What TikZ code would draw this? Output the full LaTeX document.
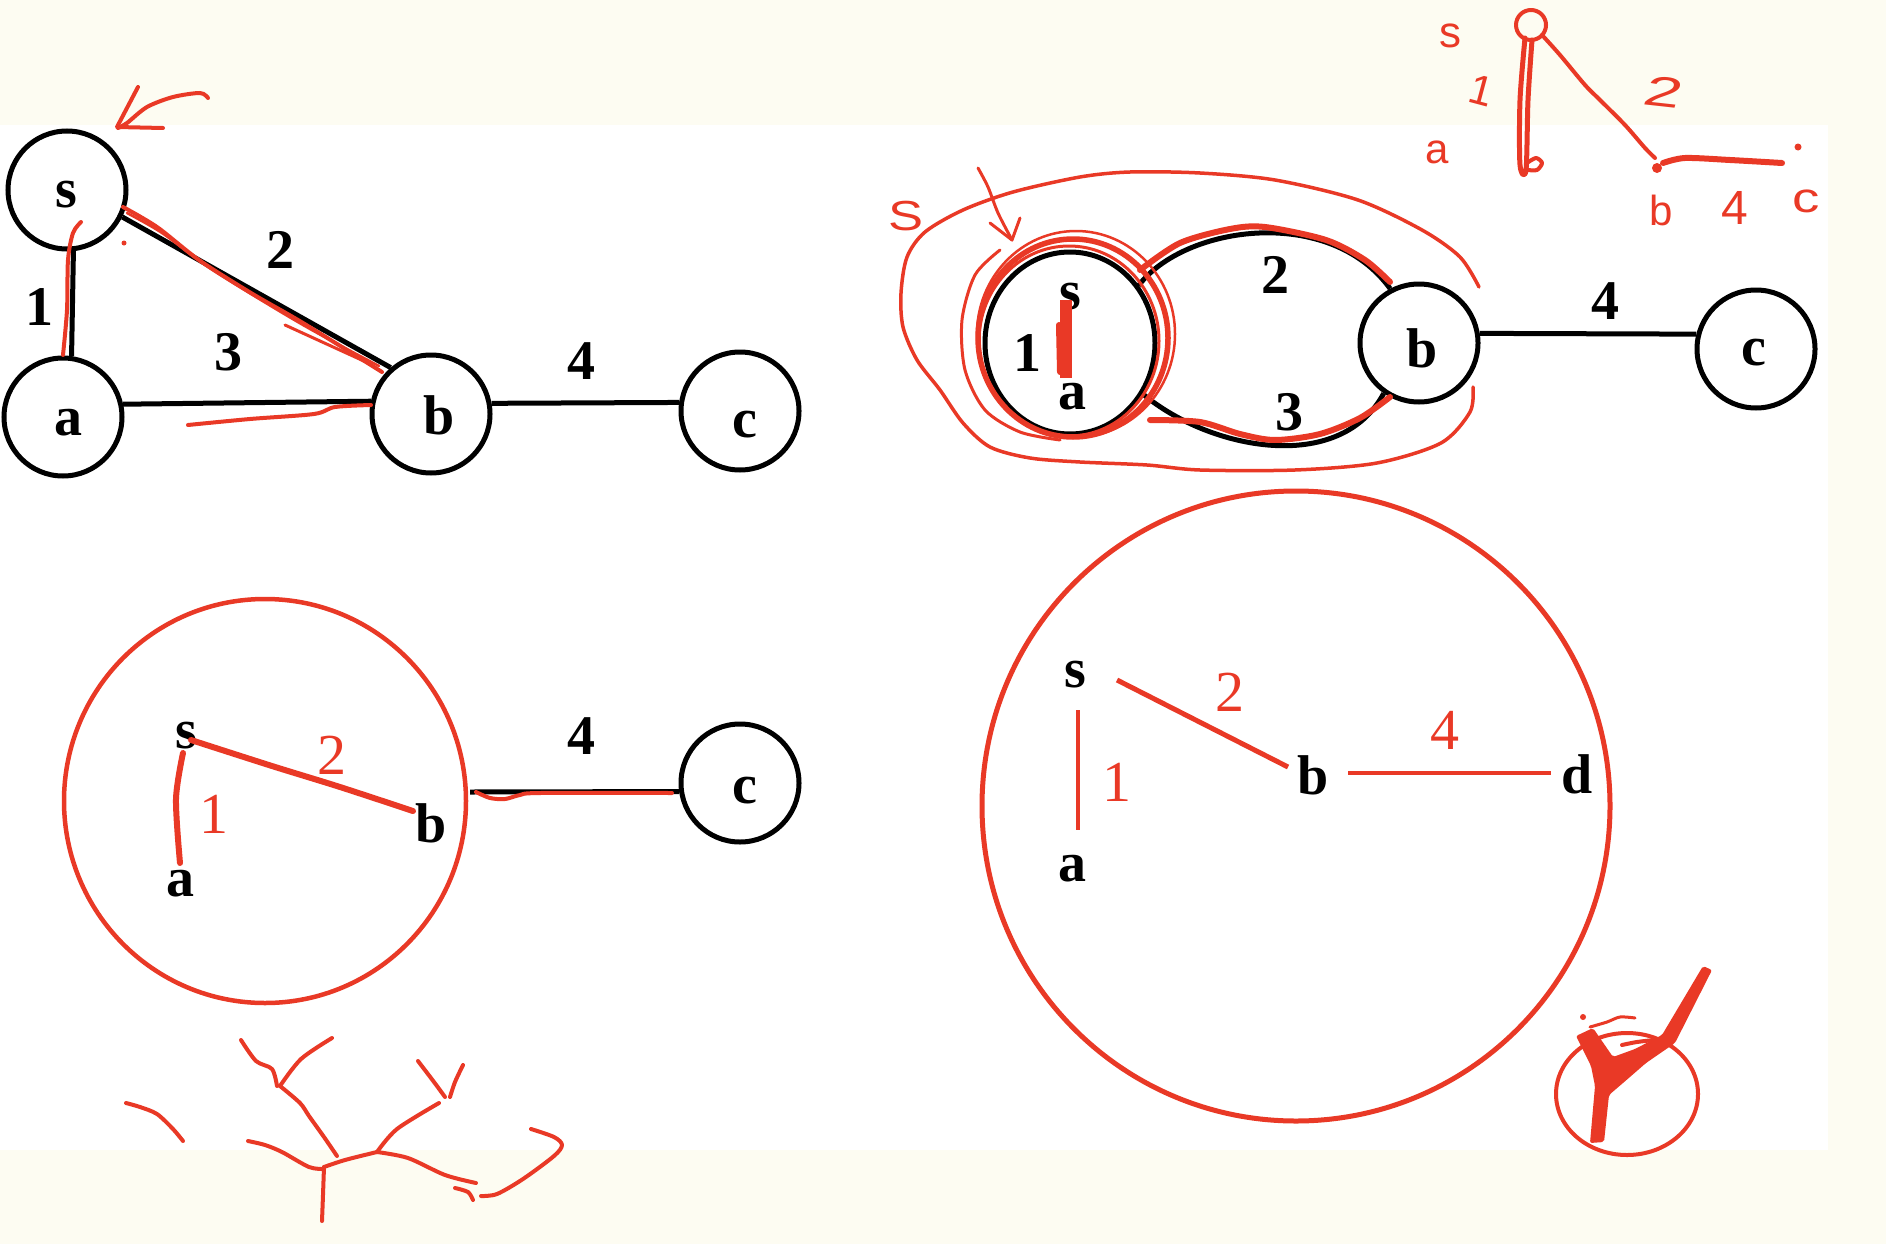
\documentclass[tikz,border=0pt]{standalone}
\usepackage{fontspec}
\setmainfont{Liberation Serif}
\newfontfamily\handfont{Liberation Sans}
\usetikzlibrary{shapes.geometric}
\definecolor{redink}{RGB}{233,57,38}
\definecolor{paper}{RGB}{253,252,242}
\begin{document}
\begin{tikzpicture}[x=1pt,y=-1pt,
  vtx/.style={circle,draw=black,line width=5pt,minimum size=118pt,inner sep=0pt},
  blk/.style={draw=black,line width=5pt},
  bl/.style={inner sep=0pt,font=\bfseries\fontsize{56}{60}\selectfont},
  rl/.style={inner sep=0pt,text=redink,font=\fontsize{58}{60}\selectfont},
  rd/.style={draw=redink,line width=4pt,line cap=round,line join=round},
  rdthick/.style={rd,line width=6pt},
  hw/.style={inner sep=0pt,text=redink,font=\handfont\fontsize{42}{42}\selectfont}
]
\useasboundingbox (0,0) rectangle (1886,1244);
\fill[paper] (0,0) rectangle (1886,1244);
\fill[white] (0,125) rectangle (1828,1150);

% ================= top-left graph =================
\node[vtx] (s1) at (67,190) {};
\node[vtx] (a1) at (63,417) {};
\node[vtx] (b1) at (431,414) {};
\node[vtx] (c1) at (740,411) {};
\draw[blk] (s1.-84) -- (a1.82);
\draw[blk] (a1.12) -- (b1.168);
\draw[blk] (s1.-26) -- (b1.131);
\draw[blk] (b1.10) -- (c1.172);
\node[bl] (ts1) at (66,195) {s};
\node[bl] (ta1) at (68,423) {a};
\node[bl] (tb1) at (439,415) {b};
\node[bl] (tc1) at (745,425) {c};
\node[bl] (w11) at (39,307) {1};
\node[bl] (w21) at (280,250) {2};
\node[bl] (w31) at (228,352) {3};
\node[bl] (w41) at (581,361) {4};
% red marks
\draw[rd] plot[smooth] coordinates {(208,98) (200,93) (173,97) (147,107) (127,123) (118,128)};
\draw[rd] (138,87) -- (117,127) -- (163,128);
\draw[rd] plot[smooth] coordinates {(81,222) (73,233) (68,260) (67,310) (63,355)};
\draw[rd] plot[smooth] coordinates {(123,207) (157,227) (199,260) (251,293) (303,323) (382,372)};
\draw[rd,line width=2.5pt] plot[smooth] coordinates {(127,213) (162,233) (205,265) (256,297) (310,329) (379,366)};
\draw[rd,line width=3pt] (285,325) -- (366,362);
\fill[redink] (124,243) circle [radius=2.5];
\draw[rd] plot[smooth] coordinates {(188,425) (250,419) (314,414) (335,407) (371,405)};

% ================= top-right graph =================
\node[ellipse,draw=black,line width=5pt,minimum width=170pt,minimum height=182pt,inner sep=0pt] (sa2) at (1070,343) {};
\node[vtx] (b2) at (1419,343) {};
\node[vtx] (c2) at (1756,349) {};
\draw[blk] (b2.9) -- (c2.166);
\draw[blk] (sa2.40) .. controls (1185,225) and (1330,205) .. (b2.118);
\draw[blk] (sa2.-35) .. controls (1210,450) and (1340,475) .. (b2.-125);
\node[bl] (ts2) at (1070,297) {s};
\node[bl] (ta2) at (1072,397) {a};
\node[bl] (w12) at (1027,353) {1};
\node[bl] (tb2) at (1422,348) {b};
\node[bl] (tc2) at (1754,353) {c};
\node[bl] (w22) at (1275,275) {2};
\node[bl] (w32) at (1289,412) {3};
\node[bl] (w42) at (1605,301) {4};
% red marks
\draw[redink,line width=5.5pt] (1073,338) ellipse [x radius=95, y radius=99];
\draw[redink,line width=3pt] (1069,341) ellipse [x radius=90, y radius=95];
\draw[redink,line width=2.5pt] (1076,334) ellipse [x radius=99, y radius=103];
\draw[rd,line width=3pt] plot[smooth] coordinates {(1000,250) (975,275) (962,320) (965,370) (985,410) (1020,432) (1060,440)};
\draw[rd,line width=12pt,line cap=butt] (1066,300) -- (1066,378);
\draw[rd,line width=6pt] (1059,325) -- (1060,372);
\draw[rdthick] plot[smooth] coordinates {(1140,270) (1180,243) (1230,229) (1265,227) (1326,240) (1365,260) (1390,282)};
\draw[rdthick] plot[smooth] coordinates {(1150,420) (1200,422) (1240,434) (1275,440) (1320,434) (1360,418) (1390,397)};
\draw[rd,line width=3.5pt] plot[smooth] coordinates {(1479,287) (1460,257) (1422,230) (1358,200) (1275,180) (1200,173) (1130,172) (1080,177) (1013,192) (963,210) (925,232) (907,257) (901,293) (903,327) (917,360) (940,390) (963,423) (990,447) (1030,458) (1080,462) (1147,465) (1200,470) (1295,470) (1377,463) (1441,443) (1470,412) (1473,387)};
\node[hw,xscale=1.25] (S2) at (906,216) {S};
\draw[rd,line width=3pt] plot[smooth] coordinates {(978,168) (988,187) (998,213) (1012,240)};
\draw[rd,line width=3pt] (990,223) -- (1012,240) -- (1020,218);

% ----- small sketch top right
\draw[rd] (1531,25) circle [radius=15];
\draw[rd,line width=5pt] plot[smooth] coordinates {(1525,38) (1520,100) (1520,165) (1526,170) (1528,100) (1532,40)};
\draw[rd] plot[smooth] coordinates {(1527,163) (1536,158) (1542,163) (1537,170) (1528,170)};
\draw[rd] plot[smooth] coordinates {(1542,35) (1560,55) (1585,85) (1600,100) (1625,125) (1645,148) (1655,158)};
\fill[redink] (1657,168) circle [radius=5];
\draw[rd,line width=6pt] plot[smooth] coordinates {(1663,163) (1685,158) (1730,160) (1782,163)};
\fill[redink] (1798,147) circle [radius=3.5];
\node[hw,font=\handfont\fontsize{44}{44}\selectfont] (hs) at (1450,36) {s};
\node[hw,rotate=-15] (h1) at (1481,91) {1};
\node[hw] (ha) at (1437,152) {a};
\node[hw,xscale=1.6,rotate=-10] (h2) at (1664,92) {2};
\node[hw] (hb) at (1661,210) {b};
\node[hw,font=\handfont\fontsize{48}{48}\selectfont] (h4) at (1735,208) {4};
\node[hw,xscale=1.3] (hc) at (1806,201) {c};

% ================= bottom-left =================
\draw[redink,line width=4.5pt] (265,801) ellipse [x radius=201, y radius=202];
\node[vtx] (c3) at (740,783) {};
\coordinate (e3) at (470,792);
\draw[blk] (e3) -- (c3.188);
\draw[rd] plot[smooth] coordinates {(476,792) (490,798) (505,799) (520,795) (540,793) (672,793)};
\node[bl] (ts3) at (186,736) {s};
\node[bl] (ta3) at (180,884) {a};
\node[bl] (tb3) at (431,823) {b};
\node[bl] (tc3) at (745,791) {c};
\node[bl] (w43) at (581,736) {4};
\draw[rd,line width=6pt] plot[smooth] coordinates {(183,753) (176,799) (180,863)};
\draw[rd,line width=6pt] plot[smooth] coordinates {(191,740) (272,766) (340,787) (413,811)};
\node[rl] (w13) at (214,814) {1};
\node[rl] (w23) at (332,755) {2};
% scribble
\draw[rd] plot[smooth] coordinates {(126,1103) (140,1107) (157,1114) (173,1129) (183,1141)};
\draw[rd] plot[smooth] coordinates {(241,1040) (256,1061) (272,1069) (277,1086)};
\draw[rd] plot[smooth] coordinates {(280,1086) (301,1059) (332,1038)};
\draw[rd] plot[smooth] coordinates {(280,1086) (300,1103) (309,1116) (324,1137) (337,1156)};
\draw[rd] plot[smooth] coordinates {(248,1141) (265,1145) (282,1152) (309,1167) (324,1169)};
\draw[rd] plot[smooth] coordinates {(324,1167) (323,1195) (322,1221)};
\draw[rd] plot[smooth] coordinates {(324,1167) (345,1160) (377,1152)};
\draw[rd] plot[smooth] coordinates {(377,1152) (397,1129) (439,1103)};
\draw[rd] plot[smooth] coordinates {(377,1152) (408,1158) (445,1175) (476,1183)};
\draw[rd] plot[smooth] coordinates {(418,1061) (434,1082) (445,1097)};
\draw[rd] plot[smooth] coordinates {(463,1065) (455,1082) (450,1097)};
\draw[rd] plot[smooth] coordinates {(455,1188) (468,1192) (473,1200)};
\draw[rd] plot[smooth] coordinates {(481,1196) (497,1194) (523,1179) (554,1156) (562,1145) (554,1137) (531,1129)};

% ================= bottom-right =================
\draw[redink,line width=5pt] (1296,806) ellipse [x radius=314, y radius=315];
\node[bl] (ts4) at (1075,675) {s};
\node[bl] (ta4) at (1072,869) {a};
\node[bl] (tb4) at (1313,775) {b};
\node[bl] (td4) at (1577,774) {d};
\coordinate (sa4s) at (1078,710);
\coordinate (sa4e) at (1078,830);
\draw[rd,line width=4.5pt,line cap=butt] (sa4s) -- (sa4e);
\coordinate (sb4s) at (1117,680);
\coordinate (sb4e) at (1288,767);
\draw[rd,line width=5pt,line cap=butt] (sb4s) -- (sb4e);
\coordinate (bd4s) at (1348,773);
\coordinate (bd4e) at (1551,773);
\draw[rd,line width=4.5pt,line cap=butt] (bd4s) -- (bd4e);
\node[rl] (w14) at (1117,782) {1};
\node[rl] (w24) at (1230,692) {2};
\node[rl] (w44) at (1445,730) {4};
% check mark in circle
\draw[redink,line width=4pt] (1627,1094) ellipse [x radius=71, y radius=61];
\fill[redink,rounded corners=2pt] (1576,1036) -- (1593,1028) -- (1613,1057) -- (1635,1049) -- (1662,1035) -- (1703,966) -- (1712,970) -- (1675,1043) -- (1646,1063) -- (1623,1083) -- (1609,1095) -- (1604,1142) -- (1590,1143) -- (1595,1086) -- (1591,1066) -- cycle;
\fill[redink] (1583,1017) circle [radius=3];
\draw[rd,line width=3pt] plot[smooth] coordinates {(1590,1027) (1607,1022) (1620,1017) (1635,1018)};
\draw[rd,line width=4pt] plot[smooth] coordinates {(1622,1045) (1637,1042) (1657,1040) (1670,1042)};
\end{tikzpicture}
\end{document}
